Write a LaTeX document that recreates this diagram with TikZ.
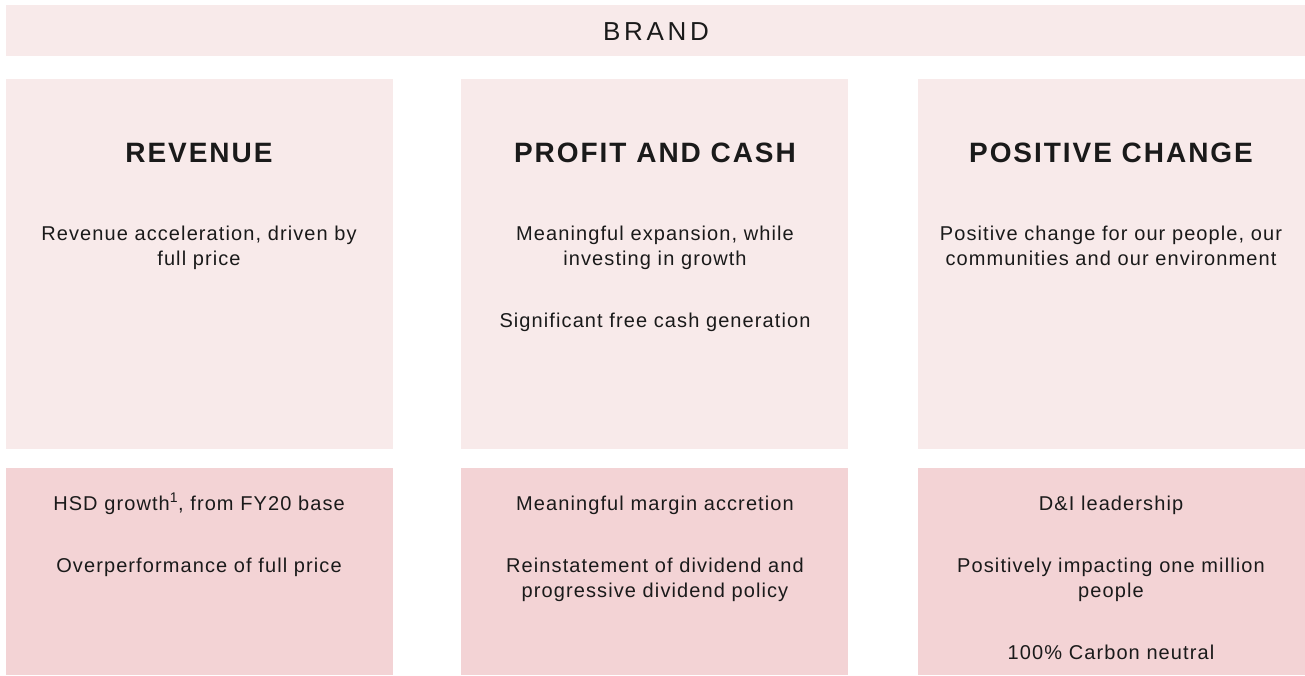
\documentclass[tikz,border=0pt]{standalone}
\usepackage{fontspec}
\setmainfont{Liberation Sans}[LetterSpace=5.5]
\newfontfamily\headfont{Liberation Sans}[LetterSpace=7]
\newfontfamily\brandfont{Liberation Sans}[LetterSpace=14]
\definecolor{light}{HTML}{F8EAEA}
\definecolor{dark}{HTML}{F3D3D5}
\definecolor{ink}{HTML}{1A1A1A}
\begin{document}
\begin{tikzpicture}[x=1pt,y=-1pt,
  lightbox/.style={fill=light,draw=none},
  darkbox/.style={fill=dark,draw=none},
  head/.style={anchor=base,font=\headfont\fontsize{28}{30}\selectfont\bfseries,text=ink,inner sep=0},
  body/.style={anchor=base,font=\fontsize{20}{25}\selectfont,text=ink,inner sep=0},
  brandtxt/.style={anchor=base,font=\brandfont\fontsize{26}{30}\selectfont,text=ink,inner sep=0}]
\useasboundingbox (0,0) rectangle (1305,675);
\fill[white] (0,0) rectangle (1305,675);
% brand bar
\fill[lightbox] (6,5) rectangle (1305,56);
\node[brandtxt] (brand) at (656,40) {BRAND};
% top boxes
\fill[lightbox] (6,79) rectangle (393,449);
\fill[lightbox] (461,79) rectangle (848,449);
\fill[lightbox] (918,79) rectangle (1305,449);
% bottom boxes
\fill[darkbox] (6,468) rectangle (393,675);
\fill[darkbox] (461,468) rectangle (848,675);
\fill[darkbox] (918,468) rectangle (1305,675);
% headings
\node[head] (h1) at (199,162) {REVENUE};
\node[head] (h2) at (655,162) {PROFIT AND CASH};
\node[head] (h3) at (1111,162) {POSITIVE CHANGE};
% top texts
\node[body] (r1a) at (199,240) {Revenue acceleration, driven by};
\node[body] (r1b) at (199,265) {full price};
\node[body] (p1a) at (655,240) {Meaningful expansion, while};
\node[body] (p1b) at (655,265) {investing in growth};
\node[body] (p2) at (655,327) {Significant free cash generation};
\node[body] (c1a) at (1111,240) {Positive change for our people, our};
\node[body] (c1b) at (1111,265) {communities and our environment};
% bottom texts
\node[body] (r2) at (199,510) {HSD growth\textsuperscript{1}, from FY20 base};
\node[body] (r3) at (199,572) {Overperformance of full price};
\node[body] (p3) at (655,510) {Meaningful margin accretion};
\node[body] (p4a) at (655,572) {Reinstatement of dividend and};
\node[body] (p4b) at (655,597) {progressive dividend policy};
\node[body] (c2) at (1111,510) {D\&I leadership};
\node[body] (c3a) at (1111,572) {Positively impacting one million};
\node[body] (c3b) at (1111,597) {people};
\node[body] (c4) at (1111,659) {100\% Carbon neutral};
\end{tikzpicture}
\end{document}
